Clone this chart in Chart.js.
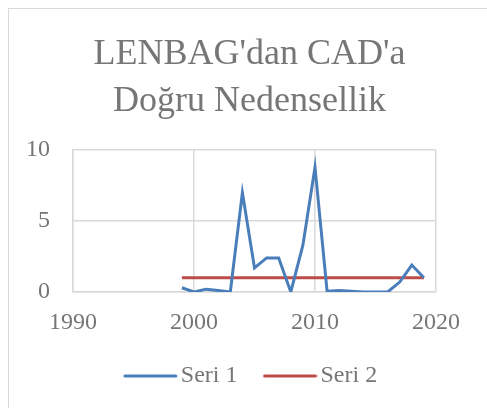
<!DOCTYPE html>
<html>
<head>
<meta charset="utf-8">
<script src="https://cdn.jsdelivr.net/npm/chart.js@4/dist/chart.umd.min.js"></script>
<style>
  html, body { margin: 0; padding: 0; background: #fff; }
  #wrap { width: 487px; height: 408px; }
</style>
</head>
<body>
<div id="wrap"><canvas id="chart" width="487" height="408"></canvas></div>
<script>
// Chart data
const years = [1999, 2000, 2001, 2002, 2003, 2004, 2005, 2006, 2007, 2008, 2009,
               2010, 2011, 2012, 2013, 2014, 2015, 2016, 2017, 2018, 2019];
const seri1 = [0.3, 0.0, 0.2, 0.1, 0.0, 7.0, 1.7, 2.4, 2.4, 0.0, 3.3,
               8.8, 0.05, 0.1, 0.05, 0.0, 0.0, 0.0, 0.7, 1.9, 1.0];
const seri2 = [1, 1, 1, 1, 1, 1, 1, 1, 1, 1, 1,
               1, 1, 1, 1, 1, 1, 1, 1, 1, 1];
const titleLines = ["LENBAG'dan CAD'a", "Doğru Nedensellik"];
const seriesNames = ['Seri 1', 'Seri 2'];
const seriesColors = ['#4a7ebb', '#be4b48'];

const textGray = '#767676';
const gridGray = '#d9d9d9';
const font = "'Liberation Serif', 'DejaVu Serif', serif";

// white background + outer frame (cut off at right/bottom like the picture)
const framePlugin = {
    id: 'frame',
    beforeDraw(chart) {
        const c = chart.ctx;
        c.save();
        c.fillStyle = '#fff';
        c.fillRect(0, 0, chart.width, chart.height);
        c.strokeStyle = gridGray;
        c.lineWidth = 1;
        c.strokeRect(8.5, 8.5, chart.width + 20, chart.height + 20);
        c.restore();
    }
};

// legend marker: a line segment with round ends, wider than the legend box so it sits close to the text
function legendLine(color) {
    const cv = document.createElement('canvas');
    cv.width = 55;
    cv.height = 4;
    const g = cv.getContext('2d');
    g.strokeStyle = color;
    g.lineWidth = 3;
    g.lineCap = 'round';
    g.beginPath();
    g.moveTo(2, 2);
    g.lineTo(53, 2);
    g.stroke();
    return cv;
}

const toPoints = vals => vals.map((v, i) => ({ x: years[i], y: v }));

const ctx = document.getElementById('chart').getContext('2d');
const myChart = new Chart(ctx, {
    type: 'line',
    data: {
        datasets: [seri1, seri2].map((vals, i) => ({
            label: seriesNames[i],
            data: toPoints(vals),
            borderColor: seriesColors[i],
            backgroundColor: seriesColors[i],
            borderWidth: 3,
            pointRadius: 0,
            pointStyle: legendLine(seriesColors[i]),
            tension: 0
        }))
    },
    options: {
        responsive: false,
        animation: false,
        layout: { padding: { left: 12, right: 0, top: 8, bottom: 10 } },
        plugins: {
            title: {
                display: true,
                text: titleLines,
                color: textGray,
                font: { family: font, size: 36, weight: 'normal', lineHeight: 1.28 },
                padding: { top: 24, bottom: 26 }
            },
            legend: {
                position: 'bottom',
                fullSize: false,
                labels: {
                    color: textGray,
                    font: { family: font, size: 24 },
                    usePointStyle: true,
                    pointStyleWidth: 37,
                    boxHeight: 10,
                    padding: 22,
                    // trailing spaces widen the gap before the next entry
                    generateLabels: chart => {
                        const items = Chart.defaults.plugins.legend.labels.generateLabels(chart);
                        items.forEach((item, i) => {
                            if (i < items.length - 1) item.text += '  ';
                        });
                        return items;
                    }
                }
            },
            tooltip: { enabled: false }
        },
        scales: {
            x: {
                type: 'linear',
                min: 1990,
                max: 2020,
                ticks: {
                    stepSize: 10,
                    color: textGray,
                    font: { family: font, size: 24 },
                    padding: 16,
                    callback: v => String(v)
                },
                grid: { color: gridGray, lineWidth: 1.5, drawTicks: false },
                border: { color: gridGray, width: 1.5 },
                afterFit: scale => { scale.height = 50; }
            },
            y: {
                min: 0,
                max: 10,
                ticks: {
                    stepSize: 5,
                    color: textGray,
                    font: { family: font, size: 24 },
                    padding: 23
                },
                grid: { color: gridGray, lineWidth: 1.5, drawTicks: false },
                border: { color: gridGray, width: 1.5 },
                afterFit: scale => { scale.width = 61; }
            },
            // empty right-hand axis, only to keep the plot area clear of the right edge
            yRight: {
                position: 'right',
                ticks: { display: false },
                grid: { display: false },
                border: { display: false },
                afterFit: scale => { scale.width = 51; }
            }
        }
    },
    plugins: [framePlugin]
});
</script>
</body>
</html>
